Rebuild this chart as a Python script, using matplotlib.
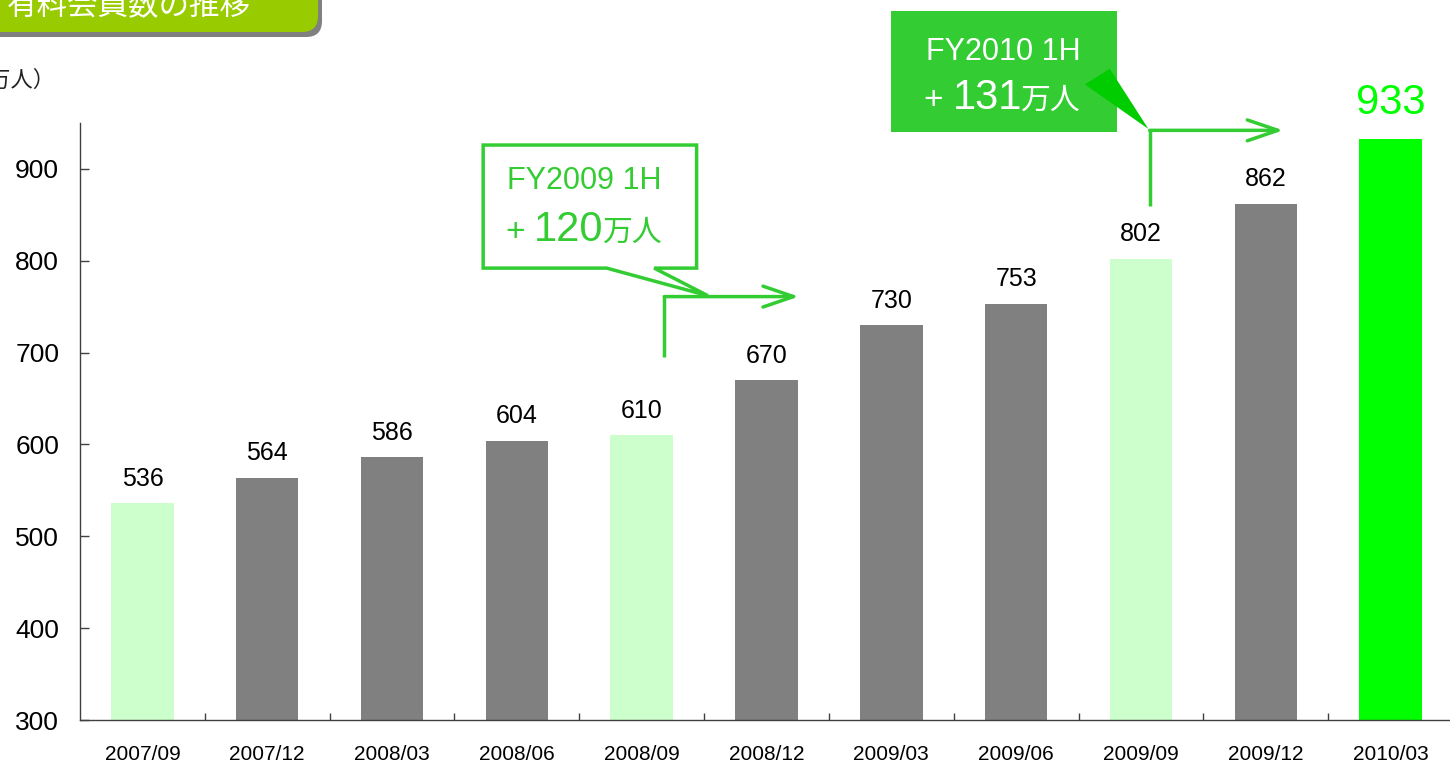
import numpy as np
import matplotlib.pyplot as plt
from matplotlib.patches import Polygon, Rectangle, FancyBboxPatch

# data
periods = ['2007/09', '2007/12', '2008/03', '2008/06', '2008/09', '2008/12',
           '2009/03', '2009/06', '2009/09', '2009/12', '2010/03']
members = [536, 564, 586, 604, 610, 670, 730, 753, 802, 862, 933]
kind = ['half', 'q', 'q', 'q', 'half', 'q', 'q', 'q', 'half', 'q', 'last']

title = '有料会員数の推移'
unit = '（万人）'
note1 = ('FY2009 1H', '120')
note2 = ('FY2010 1H', '131')

LAT = ['Liberation Sans', 'Noto Sans CJK JP', 'DejaVu Sans']
JP = ['Noto Sans CJK JP', 'DejaVu Sans']
GREEN = '#33CC33'
colmap = {'half': '#CCFFCC', 'q': '#808080', 'last': '#00FF00'}

plt.rcParams['font.family'] = LAT

W, H = 1450, 763
fig = plt.figure(figsize=(W / 100, H / 100), dpi=100)
ax = fig.add_axes([80 / W, 43 / H, 1373 / W, 597 / H])

x = np.arange(len(periods))
ax.bar(x, members, width=0.5, color=[colmap[k] for k in kind], zorder=2)

ax.set_xlim(-0.5, len(periods) - 0.5)
ax.set_ylim(300, 950)
ax.set_yticks(range(300, 901, 100))
ax.tick_params(axis='y', direction='in', length=6.5, width=1, labelsize=19,
               pad=15, colors='#404040', labelcolor='black')
ax.set_xticks(x)
ax.set_xticklabels(periods)
ax.set_xticks(x[:-1] + 0.5, minor=True)
ax.tick_params(axis='x', which='major', length=0, labelsize=15, pad=18)
ax.tick_params(axis='x', which='minor', direction='in', length=5, width=1,
               colors='#404040')
for s in ['top', 'right']:
    ax.spines[s].set_visible(False)
for s in ['left', 'bottom']:
    ax.spines[s].set_color('#404040')
    ax.spines[s].set_linewidth(1)

# value labels
for xi, v, k in zip(x, members, kind):
    if k == 'last':
        ax.annotate(str(v), (xi, v), xytext=(0, 11), textcoords='offset points',
                    ha='center', va='bottom', fontsize=30, color='#00FF00')
    else:
        ax.annotate(str(v), (xi, v), xytext=(0, 9), textcoords='offset points',
                    ha='center', va='bottom', fontsize=18, color='black')

arrow_kw = dict(arrowstyle='->,head_length=2.2,head_width=0.75', color=GREEN,
                lw=2.5, shrinkA=0, shrinkB=0)

# callout 1 (outlined box with tail)
ax.plot([4.18, 4.18], [695, 761], color=GREEN, lw=2.5, clip_on=False,
        solid_capstyle='butt', zorder=5)
ax.annotate('', xy=(5.26, 761), xytext=(4.18, 761), arrowprops=arrow_kw,
            annotation_clip=False, zorder=5)
box1 = Polygon([(2.73, 926), (4.44, 926), (4.44, 792), (4.10, 792),
                (4.53, 762), (3.72, 792), (2.73, 792)], closed=True,
               fc='white', ec=GREEN, lw=2.5, clip_on=False, zorder=6,
               joinstyle='miter')
ax.add_patch(box1)
ax.text(3.54, 887, note1[0], ha='center', va='center', fontsize=22,
        color=GREEN, zorder=7)
ax.text(2.91, 822, '+', ha='left', va='baseline', fontsize=24, color=GREEN, zorder=7)
ax.text(3.14, 822, note1[1], ha='left', va='baseline', fontsize=30, color=GREEN, zorder=7)
ax.text(3.69, 822, '万人', ha='left', va='baseline', fontsize=21.5, color=GREEN,
        family=JP, zorder=7)

# callout 2 (filled box)
ax.plot([8.07, 8.07], [860, 942], color=GREEN, lw=2.5, clip_on=False,
        solid_capstyle='butt', zorder=5)
ax.annotate('', xy=(9.14, 942), xytext=(8.07, 942), arrowprops=arrow_kw,
            annotation_clip=False, zorder=5)
ax.add_patch(Rectangle((6.0, 940), 1.81, 132, fc=GREEN, ec='none',
                       clip_on=False, zorder=6))
ax.add_patch(Polygon([(7.55, 992), (7.75, 1009), (8.06, 943.5)], closed=True,
                     fc='#00CC00', ec='none', clip_on=False, zorder=7))
ax.text(6.9, 1027, note2[0], ha='center', va='center', fontsize=22,
        color='white', zorder=8)
ax.text(6.26, 965, '+', ha='left', va='baseline', fontsize=24, color='white', zorder=8)
ax.text(6.49, 965, note2[1], ha='left', va='baseline', fontsize=30, color='white', zorder=8)
ax.text(7.04, 965, '万人', ha='left', va='baseline', fontsize=21.5, color='white',
        family=JP, zorder=8)

# title tab (clipped at top-left)
fig.add_artist(FancyBboxPatch((-20 / W, 1 - 37 / H), 342 / W, 60 / H,
                              boxstyle='round,pad=0,rounding_size=0.011',
                              fc='#808080', ec='none', transform=fig.transFigure,
                              mutation_aspect=W / H))
fig.add_artist(FancyBboxPatch((-20 / W, 1 - 32 / H), 338 / W, 55 / H,
                              boxstyle='round,pad=0,rounding_size=0.011',
                              fc='#99CC00', ec='none', transform=fig.transFigure,
                              mutation_aspect=W / H))
fig.text(7 / W, 1 - 6 / H, title, ha='left', va='center', fontsize=22,
         color='white', family=JP)
fig.text(56 / W, 1 - 80 / H, unit, ha='right', va='center', fontsize=16,
         color='#222222', family=JP)

fig.savefig('out.png', dpi=100, facecolor='white')
